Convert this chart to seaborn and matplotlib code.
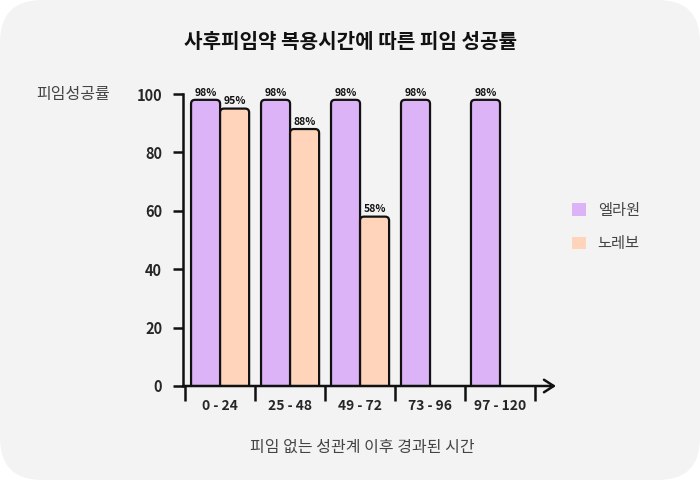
import pandas as pd
import matplotlib.pyplot as plt
import seaborn as sns
from matplotlib.patches import FancyBboxPatch, Patch

# 데이터
hours = ['0 - 24', '25 - 48', '49 - 72', '73 - 96', '97 - 120']
ellaone = [98, 98, 98, 98, 98]
norlevo = [95, 88, 58, None, None]
drugs = ['엘라원', '노레보']
colors = ['#dcb3f6', '#ffd4bb']

data = pd.DataFrame({
    'hours': hours * 2,
    'drug': [drugs[0]] * len(hours) + [drugs[1]] * len(hours),
    'rate': ellaone + norlevo,
})

sns.set_style('white')
plt.rcParams['font.family'] = ['Noto Sans CJK KR', 'DejaVu Sans']

fig = plt.figure(figsize=(7, 4.8), dpi=100, facecolor='white')
# 둥근 회색 배경
bg = FancyBboxPatch((0, 0), 1, 1, boxstyle='round,pad=0,rounding_size=0.06',
                    transform=fig.transFigure, facecolor='#f3f3f3', edgecolor='none',
                    mutation_aspect=700 / 480, zorder=-10)
fig.patches.append(bg)

ax = fig.add_axes([183 / 700, 94 / 480, 373 / 700, 292 / 480])
ax.set_facecolor('none')

sns.barplot(data=data, x='hours', y='rate', hue='drug', palette=colors,
            width=0.83, ax=ax, legend=False, saturation=1)

ax.set_xlim(-0.53, 4.8)
ax.set_ylim(0, 100)

# 막대 위쪽 모서리 둥글게
px_x = 1 / 70
px_y = 100 / 292
r = 4 * px_x
aspect = px_y / px_x
bars = [p for p in ax.patches if p.get_height() > 0]
for p in bars:
    x, w, h = p.get_x(), p.get_width(), p.get_height()
    fc = p.get_facecolor()
    p.remove()
    box = FancyBboxPatch((x, -10), w, h + 10,
                         boxstyle=f'round,pad=0,rounding_size={r}',
                         mutation_aspect=aspect, facecolor=fc,
                         edgecolor='#111111', linewidth=1.6, zorder=2)
    box.set_clip_path(ax.patch)
    ax.add_patch(box)
    ax.text(x + w / 2, h + 0.8, f'{int(h)}%', ha='center', va='bottom',
            fontsize=7.5, fontweight='bold', color='#111111', clip_on=False)

# 축
for s in ['top', 'right', 'bottom']:
    ax.spines[s].set_visible(False)
ax.spines['left'].set_linewidth(1.8)
ax.spines['left'].set_color('#111111')
ax.annotate('', xy=(1.0, 0), xytext=(0, 0), xycoords='axes fraction',
            arrowprops=dict(arrowstyle='->,head_length=0.7,head_width=0.45',
                            lw=1.8, color='#111111', shrinkA=0, shrinkB=0))

ax.set_yticks([0, 20, 40, 60, 80, 100])
ax.tick_params(axis='y', left=True, length=7, width=1.8, color='#111111',
               labelsize=10.5, pad=8)
for t in ax.get_yticklabels():
    t.set_fontweight('bold')

ax.set_xticks([i - 0.5 for i in range(len(hours) + 1)], minor=True)
ax.set_xticks(range(len(hours)))
ax.set_xticklabels(hours, fontsize=10, fontweight='bold')
ax.tick_params(axis='x', which='major', bottom=False, length=0, pad=9)
ax.tick_params(axis='x', which='minor', bottom=True, length=11, width=1.8, color='#111111')

ax.set_xlabel('')
ax.set_ylabel('')

fig.text(0.5, 1 - 42 / 480, '사후피임약 복용시간에 따른 피임 성공률', ha='center', va='center',
         fontsize=14.5, fontweight='bold', color='#111111')
fig.text(110 / 700, 1 - 94 / 480, '피임성공률', ha='right', va='center',
         fontsize=11.5, color='#444444')
fig.text(362 / 700, 1 - 447 / 480, '피임 없는 성관계 이후 경과된 시간', ha='center', va='center',
         fontsize=11.5, color='#444444')

handles = [Patch(facecolor=c, edgecolor='none') for c in colors]
fig.legend(handles, drugs, loc='center left', bbox_to_anchor=(558 / 700, 1 - 227 / 480),
           frameon=False, fontsize=11, handlelength=0.9, handleheight=0.9,
           labelspacing=1.1, handletextpad=0.8, labelcolor='#444444')

fig.savefig('out.png', dpi=100)
